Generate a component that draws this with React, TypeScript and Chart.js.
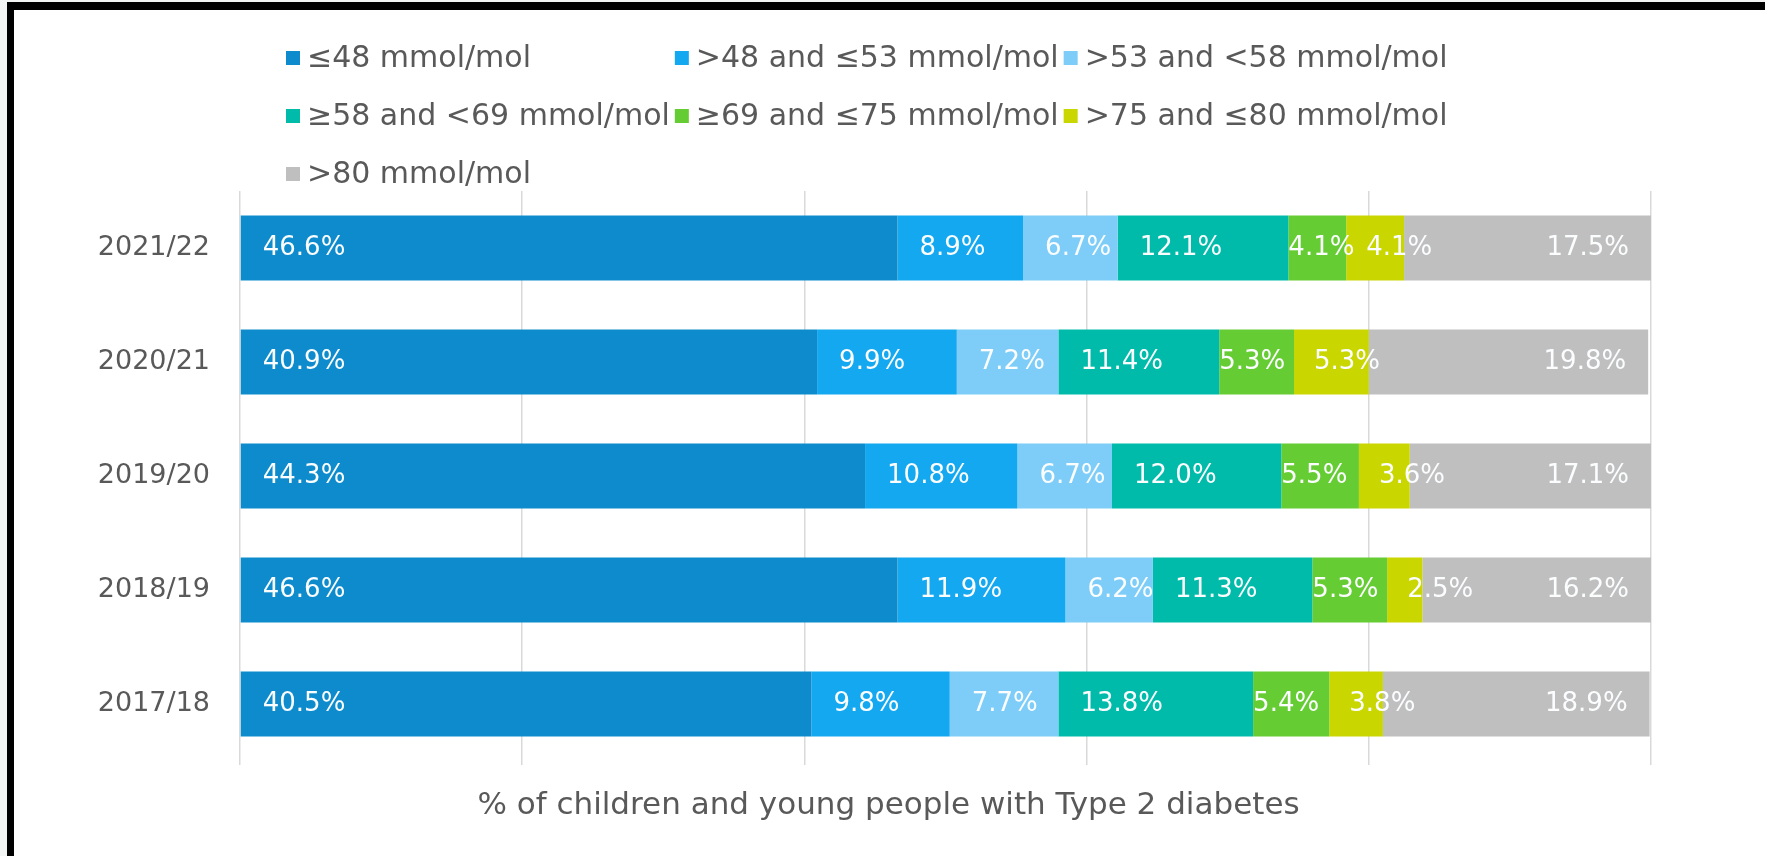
import React, { useEffect, useRef } from "react";
import { Chart, registerables } from "chart.js";

Chart.register(...registerables);

// Audit years (one horizontal bar each, top to bottom)
const years = ["2021/22", "2020/21", "2019/20", "2018/19", "2017/18"];

// HbA1c bands
const bandLabels = [
  "≤48 mmol/mol",
  ">48 and ≤53 mmol/mol",
  ">53 and <58 mmol/mol",
  "≥58 and <69 mmol/mol",
  "≥69 and ≤75 mmol/mol",
  ">75 and ≤80 mmol/mol",
  ">80 mmol/mol",
];

// % of children and young people in each band, per year
const le48 = [46.6, 40.9, 44.3, 46.6, 40.5];
const gt48le53 = [8.9, 9.9, 10.8, 11.9, 9.8];
const gt53lt58 = [6.7, 7.2, 6.7, 6.2, 7.7];
const ge58lt69 = [12.1, 11.4, 12.0, 11.3, 13.8];
const ge69le75 = [4.1, 5.3, 5.5, 5.3, 5.4];
const gt75le80 = [4.1, 5.3, 3.6, 2.5, 3.8];
const gt80 = [17.5, 19.8, 17.1, 16.2, 18.9];

// Percentage axis: gridlines every 20
const xMin = 0;
const xMax = 100;
const xStep = 20;

const axisCaption = "% of children and young people with Type 2 diabetes";

const bandValues = [le48, gt48le53, gt53lt58, ge58lt69, ge69le75, gt75le80, gt80];
const bandColors = ["#0d8bcc", "#14a8f0", "#7dcdf8", "#00bba9", "#66cc33", "#c9d600", "#bfbfbf"];

const FONT = "'DejaVu Sans', 'Open Sans', sans-serif";
const TEXT_GREY = "#595959";

// Value labels sit just inside the start of each segment; the last band is
// anchored at the end of the bar instead.
const labelInset = [22, 22, 22, 22, 0, 20, 22];
const labelAtEnd = [false, false, false, false, false, false, true];

const valueLabels = {
  id: "valueLabels",
  afterDatasetsDraw(chart: any) {
    const ctx = chart.ctx;
    ctx.save();
    ctx.font = `26px ${FONT}`;
    ctx.fillStyle = "#fbfdff";
    ctx.textBaseline = "middle";
    chart.data.datasets.forEach((ds: any, di: number) => {
      const meta = chart.getDatasetMeta(di);
      meta.data.forEach((bar: any, i: number) => {
        const { x, y, base } = bar.getProps(["x", "y", "base"], true);
        const text = `${Number(ds.data[i]).toFixed(1)}%`;
        const start = Math.min(x, base);
        const end = Math.max(x, base);
        if (labelAtEnd[di]) {
          ctx.textAlign = "right";
          ctx.fillText(text, end - labelInset[di], y);
        } else {
          ctx.textAlign = "left";
          ctx.fillText(text, start + labelInset[di], y);
        }
      });
    });
    ctx.restore();
  },
};

// Three-column legend above the plot
const gridLegend = {
  id: "gridLegend",
  afterDraw(chart: any) {
    const ctx = chart.ctx;
    const box = 14;
    const gap = 7;
    const colGap = 5;
    const rowStep = 58;
    const top = 58;
    const left = chart.chartArea.left + 46;
    ctx.save();
    ctx.font = `30px ${FONT}`;
    const widths = chart.data.datasets.map((d: any) => ctx.measureText(d.label).width);
    const colW = box + gap + Math.max(...widths) + colGap;
    ctx.textBaseline = "middle";
    ctx.textAlign = "left";
    chart.data.datasets.forEach((d: any, i: number) => {
      const col = i % 3;
      const row = Math.floor(i / 3);
      const x = left + col * colW;
      const y = top + row * rowStep;
      ctx.fillStyle = d.backgroundColor;
      ctx.fillRect(x, y - box / 2, box, box);
      ctx.fillStyle = TEXT_GREY;
      ctx.fillText(d.label, x + box + gap, y + 1);
    });
    ctx.restore();
  },
};

// Axis caption under the plot, centred on the whole figure
const captionPlugin = {
  id: "axisCaptionText",
  afterDraw(chart: any) {
    const ctx = chart.ctx;
    const { left, right, bottom } = chart.chartArea;
    ctx.save();
    ctx.font = `31px ${FONT}`;
    ctx.fillStyle = TEXT_GREY;
    ctx.textAlign = "center";
    ctx.textBaseline = "middle";
    ctx.fillText(axisCaption, (left + right) / 2 - 57, bottom + 45);
    ctx.restore();
  },
};

export default function App() {
  const canvasRef = useRef<HTMLCanvasElement | null>(null);

  useEffect(() => {
    if (!canvasRef.current) return;
    const chart = new Chart(canvasRef.current, {
      type: "bar",
      data: {
        labels: years,
        datasets: bandLabels.map((label, i) => ({
          label,
          data: bandValues[i],
          backgroundColor: bandColors[i],
          borderWidth: 0,
          categoryPercentage: 1,
          barPercentage: 0.57,
        })),
      },
      options: {
        indexAxis: "y",
        responsive: false,
        animation: false,
        layout: { padding: { left: 80, right: 114, top: 191, bottom: 91 } },
        scales: {
          x: {
            stacked: true,
            min: xMin,
            max: xMax,
            ticks: { display: false, stepSize: xStep },
            grid: { color: "#d9d9d9", lineWidth: 1.5, tickLength: 4, drawTicks: true },
            border: { display: false },
          },
          y: {
            stacked: true,
            grid: { display: false, drawTicks: false },
            border: { display: false },
            ticks: {
              padding: 30,
              color: TEXT_GREY,
              font: { family: FONT, size: 27 },
            },
            afterFit(scale: any) {
              scale.width = 160;
            },
          },
        },
        plugins: {
          legend: { display: false },
          tooltip: { enabled: false },
          title: { display: false },
        },
      },
      plugins: [valueLabels, gridLegend, captionPlugin],
    });
    return () => chart.destroy();
  }, []);

  return (
    <div style={{ position: "fixed", left: 0, top: 0, width: 1765, height: 856, background: "#f3f5f4", overflow: "hidden" }}>
      <div
        style={{
          position: "absolute",
          left: 7,
          top: 2,
          right: 0,
          bottom: 0,
          background: "#ffffff",
          borderTop: "8px solid #000",
          borderLeft: "7px solid #000",
        }}
      />
      <canvas ref={canvasRef} width={1765} height={856} style={{ position: "absolute", left: 0, top: 0, width: 1765, height: 856 }} />
    </div>
  );
}
